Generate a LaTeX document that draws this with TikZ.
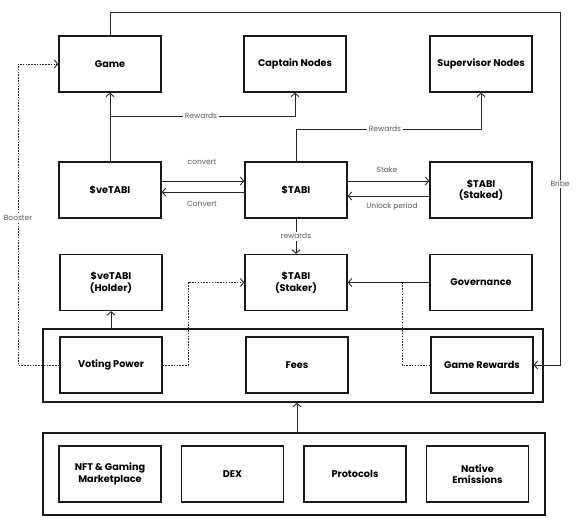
\documentclass[tikz,border=0pt]{standalone}
\usepackage{fontspec}
\setmainfont{Poppins}
\usetikzlibrary{arrows.meta,calc}
\begin{document}
\begin{tikzpicture}[x=1pt,y=-1pt,
  box/.style={draw=black!90, line width=1.3pt, minimum width=102pt, minimum height=56pt, inner sep=0pt, font=\bfseries\fontsize{9.7}{11.5}\selectfont, align=center},
  group/.style={draw=black!90, line width=1.3pt, inner sep=0pt},
  arr/.style={draw=black!85, line width=0.9pt, -{Straight Barb[length=3.5pt,width=8pt]}},
  dotline/.style={draw=black!85, line width=0.9pt, dash pattern=on 1.5pt off 1.3pt},
  lbl/.style={font=\fontsize{7.5}{9}\selectfont, text=black!65, fill=white, inner sep=1.5pt}]
\useasboundingbox[fill=white] (0,0) rectangle (577,524);

% groups
\node[group, minimum width=500pt, minimum height=73pt] (topgroup) at (293,365.5) {};
\node[group, minimum width=502pt, minimum height=82pt] (botgroup) at (294,474) {};

% row 1
\node[box] (game) at (110,64) {Game};
\node[box] (captain) at (295,64) {Captain Nodes};
\node[box] (super) at (481,64) {Supervisor Nodes};
% row 2
\node[box] (vetabi) at (110,190) {\$veTABI};
\node[box] (tabi) at (296,190) {\$TABI};
\node[box] (staked) at (481,190) {\$TABI\\(Staked)};
% row 3
\node[box] (holder) at (111,282.5) {\$veTABI\\(Holder)};
\node[box] (staker) at (296,282.5) {\$TABI\\(Staker)};
\node[box] (gov) at (481,282.5) {Governance};
% row 4
\node[box] (voting) at (111,365) {Voting Power};
\node[box] (fees) at (297,365) {Fees};
\node[box] (gamerew) at (482,365) {Game Rewards};
% row 5
\node[box] (nft) at (110,474) {NFT \& Gaming\\Marketplace};
\node[box] (dex) at (232.5,474) {DEX};
\node[box] (proto) at (355,474) {Protocols};
\node[box] (native) at (477.5,474) {Native\\Emissions};

% coordinates
\coordinate (r1) at (110,116);
\coordinate (r2) at (296,129);
\coordinate (tr) at (560,12);
\coordinate (bx) at (18,218);
\coordinate (d1) at (188,282.5);
\coordinate (g1) at (402,282.5);

% veTABI -> Game, branch to Captain
\draw[arr] (vetabi.north) -- (game.south);
\draw[arr] (r1) -| (captain.south);
\node[lbl] (lr1) at (201,116) {Rewards};

% TABI -> Supervisor
\draw[arr] (tabi.north) |- (r2) -| (super.south);
\node[lbl] (lr2) at (385,129) {Rewards};

% Bribe
\draw[arr] (game.north) |- (tr) |- (gamerew.east);
\node[lbl] (lbribe) at (560,184) {Bribe};

% convert
\draw[arr] ([yshift=9pt]vetabi.east) -- ([yshift=9pt]tabi.west);
\draw[arr] ([yshift=-2pt]tabi.west) -- ([yshift=-2pt]vetabi.east);
\node[lbl] (lc1) at (202,162) {convert};
\node[lbl] (lc2) at (202,204) {Convert};

% stake
\draw[arr] ([yshift=9pt]tabi.east) -- ([yshift=9pt]staked.west);
\draw[arr] ([yshift=-6pt]staked.west) -- ([yshift=-6pt]tabi.east);
\node[lbl] (ls1) at (387,170) {Stake};
\node[lbl] (ls2) at (392,207) {Unlock period};

% rewards down
\draw[arr] (tabi.south) -- (staker.north) node[lbl, midway] {rewards};

% governance
\draw[arr] (gov.west) -- (staker.east);
\draw[dotline] (g1) |- (gamerew.west);

% booster
\draw[dotline, -{Straight Barb[length=3.5pt,width=8pt]}] (voting.west) -| (bx) |- (game.west);
\node[lbl] (lboost) at (bx) {Booster};

% voting power -> staker
\draw[dotline, -{Straight Barb[length=3.5pt,width=8pt]}] (voting.east) -| (d1) -- (staker.west);

% group arrows
\draw[arr] (topgroup.north -| holder.south) -- (holder.south);
\draw[arr] (botgroup.north -| fees.south) -- (topgroup.south -| fees.south);
\end{tikzpicture}
\end{document}
